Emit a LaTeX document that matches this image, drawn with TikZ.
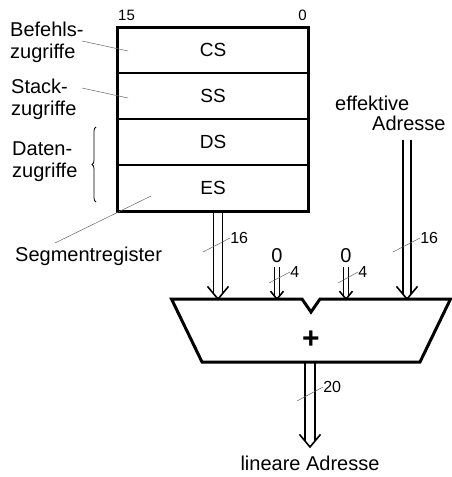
\documentclass[tikz,border=0pt]{standalone}
\usepackage{fontspec}
\setmainfont{Liberation Sans}
\usetikzlibrary{positioning,calc,decorations.pathreplacing}

\tikzset{
  reg/.style={draw, line width=1.5pt, minimum width=191pt, minimum height=46pt,
    inner sep=0pt, outer sep=0pt, font=\fontsize{19}{19}\selectfont},
  lbl/.style={align=left, anchor=base west, inner sep=0pt, font=\fontsize{20}{22}\selectfont},
  num/.style={inner sep=0pt, text=black, font=\fontsize{16}{16}\selectfont},
  lead/.style={gray!80!black, line width=0.5pt},
  bus/.style={line width=1.6pt},
  frame/.style={line width=3pt, line join=miter},
}

% double bus line with open head: from, tip, half gap, half head width
\newcommand{\busarrow}[4]{%
  \draw[bus] ($(#1)+(-#3,0)$) -- ($(#2)+(-#3,-1.2*#3)$);
  \draw[bus] ($(#1)+(#3,0)$) -- ($(#2)+(#3,-1.2*#3)$);
  \draw[bus,line join=miter] ($(#2)+(-#4,-1.2*#4)$) -- (#2) -- ($(#2)+(#4,-1.2*#4)$);
}

\begin{document}
\begin{tikzpicture}[x=1pt,y=-1pt]
\useasboundingbox (0,0) rectangle (452,477);

% segment registers
\node[reg] (cs) at (213,50) {CS};
\node[reg, below=0pt of cs] (ss) {SS};
\node[reg, below=0pt of ss] (ds) {DS};
\node[reg, below=0pt of ds] (es) {ES};
\draw[frame] (cs.north west) rectangle (es.south east);
\node[num, anchor=base west, font=\fontsize{15}{15}\selectfont] (bit15) at (118,20) {15};
\node[num, anchor=base east, font=\fontsize{15}{15}\selectfont] (bit0) at (307,20) {0};

% left labels
\node[lbl] (befehl) at (10,58) {Befehls-\\zugriffe};
\node[lbl] (stack) at (11,115) {Stack-\\zugriffe};
\node[lbl] (daten) at (12,177) {Daten-\\zugriffe};
\node[lbl] (segreg) at (15,261) {Segmentregister};
\coordinate (befend) at (82,41);
\coordinate (stackend) at (82,88);
\coordinate (segend) at (55,243);
\coordinate (csdot) at (128,51);
\coordinate (ssdot) at (128,98);
\coordinate (esdot) at (151,196);
\draw[lead] (befend) -- (csdot);
\draw[lead] (stackend) -- (ssdot);
\draw[lead] (segend) -- (esdot);
\draw[line width=0.8pt, decorate, decoration={brace, amplitude=4pt}] (96,202) -- (96,127);

% effective address
\node[lbl] (eff) at (335,110) {effektive};
\node[lbl] (adr) at (372,130) {Adresse};

% adder
\draw[frame] (171.5,299) -- (302,299) -- (311,312) -- (320,299) -- (450.5,299)
  -- (420,362) -- (202,362) -- cycle;
\node[font=\fontsize{30}{30}\bfseries] (plus) at (311,340) {+};
\coordinate (inseg) at (218,299);
\coordinate (inza) at (277,299);
\coordinate (inzb) at (346,299);
\coordinate (ineff) at (407,299);
\coordinate (outtop) at (310,362);
\coordinate (outtip) at (310,447);

% inputs
\node[lbl, anchor=base] (zeroa) at (277,262) {0};
\node[lbl, anchor=base] (zerob) at (346,262) {0};
\coordinate (zatop) at ([yshift=-5pt]zeroa.south);
\coordinate (zbtop) at ([yshift=-5pt]zerob.south);
\coordinate (efftop) at (407,140);
\busarrow{inseg |- es.south}{inseg}{4.5}{10.5}
\busarrow{zatop}{inza}{2.5}{6.5}
\busarrow{zbtop}{inzb}{2.5}{6.5}
\busarrow{efftop}{ineff}{4}{10.5}

% output
\busarrow{outtop}{outtip}{5}{10.5}
\node[lbl, anchor=base] (lin) at (310,470) {lineare Adresse};

% bus widths
\draw[lead] (203,252) -- (230,238) node[num, anchor=west] {16};
\draw[lead] (393,252) -- (420,238) node[num, anchor=west] {16};
\draw[lead] (269,283) -- (290,272) node[num, anchor=west] {4};
\draw[lead] (338,283) -- (358,272) node[num, anchor=west] {4};
\draw[lead] (297,401) -- (323,387) node[num, anchor=west] {20};
\end{tikzpicture}
\end{document}
